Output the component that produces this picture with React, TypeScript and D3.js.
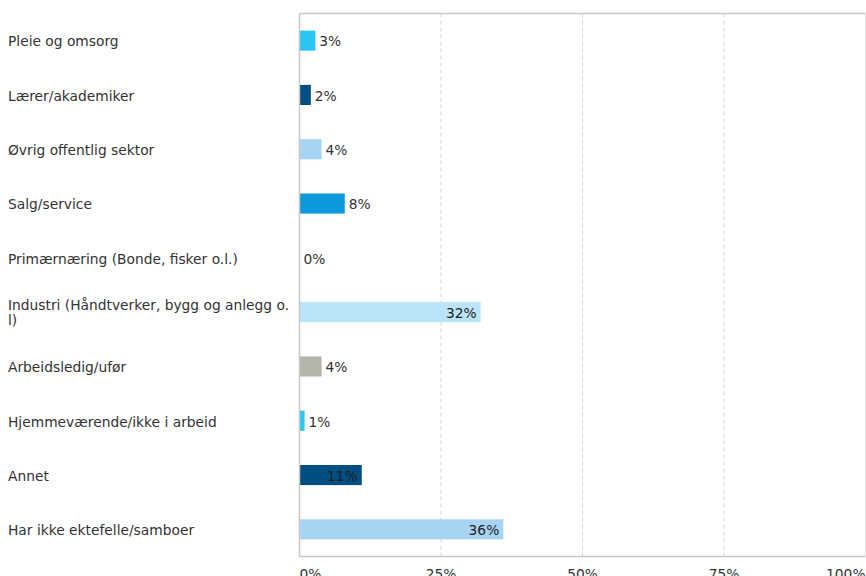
import React from "react";
import * as d3 from "d3";

const categories = [
  "Pleie og omsorg",
  "Lærer/akademiker",
  "Øvrig offentlig sektor",
  "Salg/service",
  "Primærnæring (Bonde, fisker o.l.)",
  "Industri (Håndtverker, bygg og anlegg o. l)",
  "Arbeidsledig/ufør",
  "Hjemmeværende/ikke i arbeid",
  "Annet",
  "Har ikke ektefelle/samboer",
];
const values = [2.8, 2.0, 3.9, 8.0, 0, 32, 3.9, 0.9, 11, 36];
const labels = ["3%", "2%", "4%", "8%", "0%", "32%", "4%", "1%", "11%", "36%"];
const colors = ["#29c6f4", "#004e82", "#a8d4f3", "#0a9add", "#b9e4f9", "#b9e4f9", "#b4b5a8", "#29c6f4", "#004e82", "#a8d4f3"];
const ticks = [0, 25, 50, 75, 100];
const tickLabels = ["0%", "25%", "50%", "75%", "100%"];
const insideThreshold = 10;

const W = 866;
const H = 576;
const M = { left: 299.5, right: 865.5, top: 13.5, bottom: 556.5 };
const FONT = "Verdana, 'DejaVu Sans', sans-serif";
const FS = 13.8;

function wrapLabel(s: string): string[] {
  if (s.startsWith("Industri")) {
    return ["Industri (Håndtverker, bygg og anlegg o.", "l)"];
  }
  return [s];
}

export default function App() {
  const x = d3.scaleLinear().domain([0, 100]).range([M.left, M.right]);
  const y = d3
    .scaleBand<string>()
    .domain(categories)
    .range([M.top, M.bottom])
    .paddingInner(0.63)
    .paddingOuter(0.315);
  const bh = y.bandwidth();

  return (
    <svg
      width={W}
      height={H}
      style={{ position: "absolute", left: 0, top: 0, display: "block" }}
      fontFamily={FONT}
    >
      <rect x={0} y={0} width={W} height={H} fill="#fff" />
      {ticks.slice(1, -1).map((t) => (
        <line
          key={t}
          x1={x(t)}
          x2={x(t)}
          y1={M.top}
          y2={M.bottom}
          stroke="#d6d6d6"
          strokeDasharray="4,3"
        />
      ))}
      <line x1={M.left} x2={M.right} y1={M.top} y2={M.top} stroke="#c8c8c8" strokeWidth={1.5} />
      <line x1={M.right} x2={M.right} y1={M.top} y2={M.bottom} stroke="#e4e4e4" />
      {categories.map((c, i) => {
        const y0 = y(c)!;
        const w = x(values[i]) - x(0);
        const inside = values[i] >= insideThreshold;
        return (
          <g key={c}>
            {w > 0 && <rect x={x(0)} y={y0} width={w} height={bh} fill={colors[i]} />}
            <text
              x={inside ? x(values[i]) - 4 : x(values[i]) + 4}
              y={y0 + bh / 2}
              dy="0.42em"
              textAnchor={inside ? "end" : "start"}
              fontSize={FS}
              fill={inside ? "#222" : "#333"}
            >
              {labels[i]}
            </text>
          </g>
        );
      })}
      <line x1={M.left} x2={M.left} y1={M.top} y2={M.bottom} stroke="#c8c8c8" strokeWidth={1.5} />
      <line x1={M.left} x2={M.right} y1={M.bottom} y2={M.bottom} stroke="#c8c8c8" strokeWidth={1.5} />
      {categories.map((c) => {
        const lines = wrapLabel(c);
        const cy = y(c)! + bh / 2;
        const lh = 15;
        const start = cy - ((lines.length - 1) * lh) / 2;
        return (
          <text key={c} x={8} fontSize={FS} fill="#333">
            {lines.map((l, j) => (
              <tspan key={j} x={8} y={start + j * lh} dy="0.42em">
                {l}
              </tspan>
            ))}
          </text>
        );
      })}
      {ticks.map((t, i) => (
        <text
          key={t}
          x={x(t)}
          y={M.bottom + 22}
          textAnchor={i === 0 ? "start" : i === ticks.length - 1 ? "end" : "middle"}
          fontSize={FS}
          fill="#333"
        >
          {tickLabels[i]}
        </text>
      ))}
    </svg>
  );
}
